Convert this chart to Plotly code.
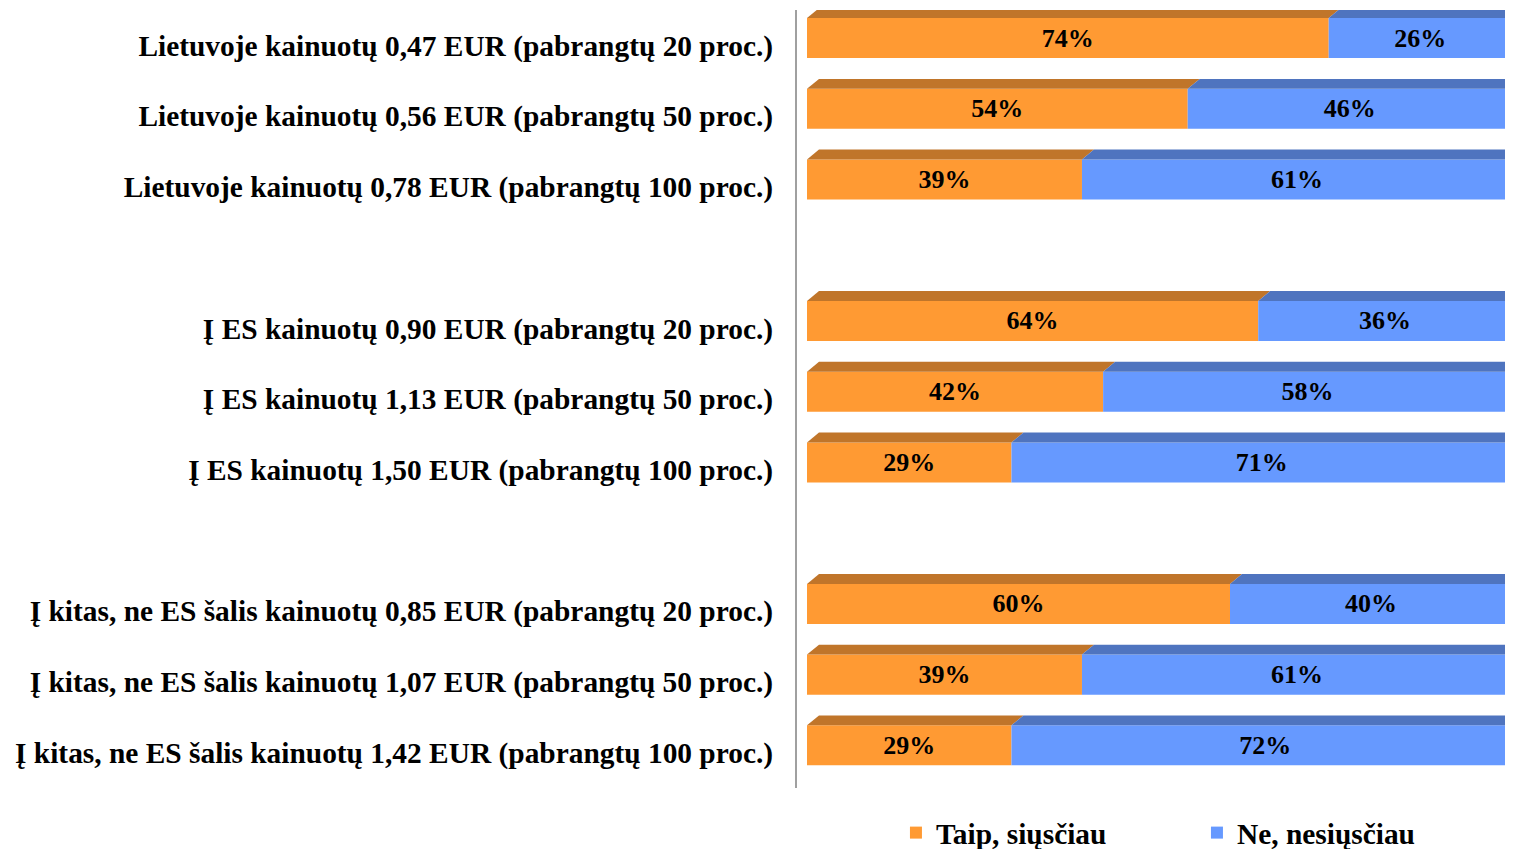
import plotly.graph_objects as go

kategorijos = [
    "Lietuvoje kainuotų 0,47 EUR (pabrangtų 20 proc.)",
    "Lietuvoje kainuotų 0,56 EUR (pabrangtų 50 proc.)",
    "Lietuvoje kainuotų 0,78 EUR (pabrangtų 100 proc.)",
    "Į ES kainuotų 0,90 EUR (pabrangtų 20 proc.)",
    "Į ES kainuotų 1,13 EUR (pabrangtų 50 proc.)",
    "Į ES kainuotų 1,50 EUR (pabrangtų 100 proc.)",
    "Į kitas, ne ES šalis kainuotų 0,85 EUR (pabrangtų 20 proc.)",
    "Į kitas, ne ES šalis kainuotų 1,07 EUR (pabrangtų 50 proc.)",
    "Į kitas, ne ES šalis kainuotų 1,42 EUR (pabrangtų 100 proc.)",
]
taip = [74, 54, 39, 64, 42, 29, 60, 39, 29]
ne = [26, 46, 61, 36, 58, 71, 40, 61, 72]

serif = "Liberation Serif, Times New Roman, serif"
oranzine, oranzine_virsus = '#FF9A33', '#C0752A'
melyna, melyna_virsus = '#6699FF', '#4F74BF'

# three groups of three, with an empty slot between groups
pos = [i + i // 3 for i in range(len(kategorijos))]
plotis = 0.566
poslinkis = -0.103
dx, dy = 1.7, 0.14  # 3d top face slant

fig = go.Figure()

# top faces of the 3d bars
for p, t, n in zip(pos, taip, ne):
    yt = p + poslinkis - plotis / 2
    for x0, x1, col in [(0, t, oranzine_virsus), (t, t + n, melyna_virsus)]:
        fig.add_trace(go.Scatter(
            x=[x0, x1, x1 + dx, x0 + dx, x0],
            y=[yt, yt, yt - dy, yt - dy, yt],
            mode='lines', fill='toself', fillcolor=col,
            line=dict(width=0, color=col), showlegend=False, hoverinfo='skip'))

yb = [p + poslinkis for p in pos]
fig.add_trace(go.Bar(
    y=yb, x=taip, orientation='h', width=plotis, name='Taip, siųsčiau',
    marker=dict(color=oranzine, line=dict(width=0)),
    text=[f"{v}%" for v in taip], textposition='inside', insidetextanchor='middle',
    textangle=0, textfont=dict(family=serif, size=26, color='black', weight='bold')))
fig.add_trace(go.Bar(
    y=yb, x=ne, base=taip, orientation='h', width=plotis, name='Ne, nesiųsčiau',
    marker=dict(color=melyna, line=dict(width=0)),
    text=[f"{v}%" for v in ne], textposition='inside', insidetextanchor='middle',
    textangle=0, textfont=dict(family=serif, size=26, color='black', weight='bold')))

# page body has an 8px margin; figure runs a little past the window bottom
fig.update_layout(
    width=1505, height=851,
    margin=dict(l=789, r=0, t=2, b=71),
    paper_bgcolor='white', plot_bgcolor='white',
    barmode='overlay',
    font=dict(family=serif, size=29.4, color='black', weight='bold'),
    xaxis=dict(range=[-1.42, 100.14], visible=False, fixedrange=True),
    yaxis=dict(range=[10.5, -0.5], tickvals=pos, ticktext=kategorijos,
               showline=True, linecolor='#A0A0A0', linewidth=2,
               showgrid=False, zeroline=False, ticks='', automargin=False,
               ticklabelstandoff=16,
               tickfont=dict(family=serif, size=29.4, color='black', weight='bold')),
    legend=dict(orientation='h', xref='container', yref='container',
                x=0.590, y=0, xanchor='left', yanchor='bottom',
                entrywidth=256, font=dict(family=serif, size=29.4, weight='bold'),
                itemwidth=30),
    showlegend=True,
)

fig.write_html("out.html")
